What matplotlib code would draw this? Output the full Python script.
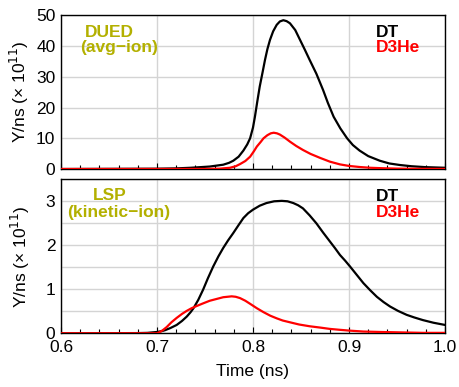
import matplotlib
matplotlib.use("Agg")
import matplotlib.pyplot as plt
from matplotlib.ticker import MultipleLocator

plt.rcParams['font.family'] = ['Liberation Sans', 'DejaVu Sans']

# ---- data (Y/ns in units of 1e11) ----
t_top_dt = [0.60, 0.70, 0.72, 0.735, 0.745, 0.755, 0.762, 0.769, 0.775, 0.7795,
            0.785, 0.79, 0.794, 0.797, 0.80, 0.802, 0.8045, 0.807, 0.810, 0.8125,
            0.815, 0.8177, 0.821, 0.8247, 0.828, 0.8316, 0.835, 0.8385, 0.844, 0.849,
            0.854, 0.859, 0.866, 0.873, 0.878, 0.884, 0.891, 0.898, 0.904, 0.911,
            0.92, 0.932, 0.942, 0.953, 0.965, 0.98, 1.0]
y_top_dt = [0.0, 0.1, 0.2, 0.4, 0.6, 0.8, 1.1, 1.4, 2.0, 2.7,
            4.0, 6.0, 8.0, 10.0, 13.5, 17.0, 22.0, 26.8, 31.5, 35.5,
            39.0, 42.0, 44.8, 46.9, 48.0, 48.4, 48.1, 47.4, 45.2, 42.0,
            38.8, 35.5, 31.0, 25.7, 21.5, 17.0, 13.2, 10.0, 7.8, 6.0,
            4.2, 2.7, 1.8, 1.3, 0.9, 0.6, 0.4]

t_top_d3he = [0.60, 0.75, 0.765, 0.776, 0.782, 0.7865, 0.792, 0.797, 0.801, 0.804,
              0.808, 0.811, 0.815, 0.8185, 0.8216, 0.825, 0.828, 0.833, 0.8385, 0.845,
              0.852, 0.86, 0.87, 0.88, 0.8906, 0.90, 0.911, 0.922, 0.935, 0.95,
              0.97, 1.0]
y_top_d3he = [0.0, 0.02, 0.1, 0.4, 0.9, 1.6, 2.6, 4.0, 5.8, 7.3,
              8.8, 10.0, 11.0, 11.6, 11.8, 11.6, 11.2, 10.2, 8.9, 7.5,
              6.2, 4.9, 3.6, 2.4, 1.5, 1.0, 0.65, 0.4, 0.25, 0.12,
              0.06, 0.03]

t_bot_dt = [0.60, 0.68, 0.69, 0.70, 0.705, 0.7083, 0.714, 0.7205, 0.726, 0.731,
            0.735, 0.738, 0.743, 0.748, 0.753, 0.7586, 0.764, 0.769, 0.774, 0.7795,
            0.785, 0.79, 0.795, 0.80, 0.807, 0.814, 0.822, 0.83, 0.836, 0.842,
            0.847, 0.852, 0.859, 0.866, 0.873, 0.88, 0.8856, 0.8906, 0.896, 0.901,
            0.908, 0.915, 0.922, 0.929, 0.936, 0.9427, 0.951, 0.96, 0.968, 0.977,
            0.988, 1.0]
y_bot_dt = [0.0, 0.005, 0.01, 0.03, 0.05, 0.07, 0.12, 0.19, 0.28, 0.38,
            0.48, 0.57, 0.76, 0.99, 1.25, 1.52, 1.75, 1.94, 2.11, 2.28,
            2.46, 2.62, 2.73, 2.81, 2.90, 2.96, 3.00, 3.01, 3.00, 2.96,
            2.91, 2.84, 2.68, 2.50, 2.29, 2.09, 1.93, 1.78, 1.65, 1.52,
            1.33, 1.14, 0.98, 0.83, 0.71, 0.61, 0.51, 0.42, 0.36, 0.30,
            0.24, 0.19]

t_bot_d3he = [0.60, 0.70, 0.703, 0.706, 0.71, 0.715, 0.7205, 0.726, 0.731, 0.736,
              0.7413, 0.748, 0.755, 0.762, 0.769, 0.7778, 0.782, 0.7865, 0.792, 0.797,
              0.804, 0.811, 0.818, 0.8247, 0.831, 0.8385, 0.848, 0.859, 0.87, 0.88,
              0.89, 0.901, 0.915, 0.933, 0.955, 0.977, 1.0]
y_bot_d3he = [0.0, 0.0, 0.03, 0.07, 0.14, 0.25, 0.35, 0.44, 0.51, 0.57,
              0.62, 0.68, 0.74, 0.78, 0.82, 0.84, 0.83, 0.80, 0.74, 0.67,
              0.57, 0.48, 0.40, 0.34, 0.29, 0.25, 0.20, 0.16, 0.13, 0.10,
              0.08, 0.06, 0.04, 0.03, 0.02, 0.01, 0.01]

x_ticks = [0.6, 0.7, 0.8, 0.9, 1.0]
x_tick_labels = ["0.6", "0.7", "0.8", "0.9", "1.0"]
top_label = ["DUED", "(avg\u2212ion)"]
bot_label = ["LSP", "(kinetic\u2212ion)"]
series_names = ["DT", "D3He"]

W, H = 459, 387
fig = plt.figure(figsize=(W / 100, H / 100), dpi=100)

def axes_rect(left, top, right, bottom):
    return [left / W, 1 - bottom / H, (right - left) / W, (bottom - top) / H]

ax1 = fig.add_axes(axes_rect(61, 15.3, 445, 169))
ax2 = fig.add_axes(axes_rect(61, 179.3, 445, 333.3))

olive = '#b3b000'
grid_c = '#d4d4d4'
fs = 12.5

for ax in (ax1, ax2):
    ax.set_xlim(0.6, 1.0)
    ax.set_xticks(x_ticks)
    ax.xaxis.set_minor_locator(MultipleLocator(0.02))
    ax.grid(True, which='major', axis='x', color=grid_c, lw=1.0)
    ax.tick_params(axis='x', which='major', direction='in', length=4, width=0.8,
                   labelsize=fs, pad=5, colors='black')
    ax.tick_params(axis='x', which='minor', direction='in', length=3, width=0.8)
    ax.tick_params(axis='y', which='both', length=0, labelsize=fs, pad=4)
    for s in ax.spines.values():
        s.set_linewidth(1.0)
        s.set_color('black')
    ax.set_axisbelow(True)

line_kw = dict(lw=1.6, zorder=3, solid_joinstyle='round', solid_capstyle='round')

# top panel
ax1.set_ylim(0, 50)
ax1.set_yticks([0, 10, 20, 30, 40, 50])
ax1.grid(True, which='major', axis='y', color=grid_c, lw=1.0)
ax1.set_xticklabels([])
ax1.plot(t_top_dt, y_top_dt, color='black', **line_kw)
ax1.plot(t_top_d3he, y_top_d3he, color='red', **line_kw)
ax1.set_ylabel("Y/ns (\u00d7 10$^{11}$)", fontsize=fs, labelpad=4)

# bottom panel
ax2.set_ylim(0, 3.5)
ax2.set_yticks([0, 1, 2, 3])
ax2.yaxis.set_minor_locator(MultipleLocator(0.5))
ax2.grid(True, which='both', axis='y', color=grid_c, lw=1.0)
ax2.set_xticklabels(x_tick_labels)
ax2.plot(t_bot_dt, y_bot_dt, color='black', **line_kw)
ax2.plot(t_bot_d3he, y_bot_d3he, color='red', **line_kw)
ax2.set_ylabel("Y/ns (\u00d7 10$^{11}$)", fontsize=fs, labelpad=10)
ax2.set_xlabel("Time (ns)", fontsize=fs, labelpad=6)

# annotations
def ptext(ax, x, y, s, color, ha='left'):
    ax.text(x, y, s, transform=ax.transAxes, color=color, fontsize=fs,
            fontweight='bold', ha=ha, va='baseline')

ptext(ax1, 0.125, 0.857, top_label[0], olive, 'center')
ptext(ax1, 0.150, 0.762, top_label[1], olive, 'center')
ptext(ax1, 0.820, 0.859, series_names[0], 'black')
ptext(ax1, 0.820, 0.758, series_names[1], 'red')

ptext(ax2, 0.126, 0.866, bot_label[0], olive, 'center')
ptext(ax2, 0.151, 0.753, bot_label[1], olive, 'center')
ptext(ax2, 0.820, 0.861, series_names[0], 'black')
ptext(ax2, 0.820, 0.757, series_names[1], 'red')

fig.savefig("out.png", dpi=100)
